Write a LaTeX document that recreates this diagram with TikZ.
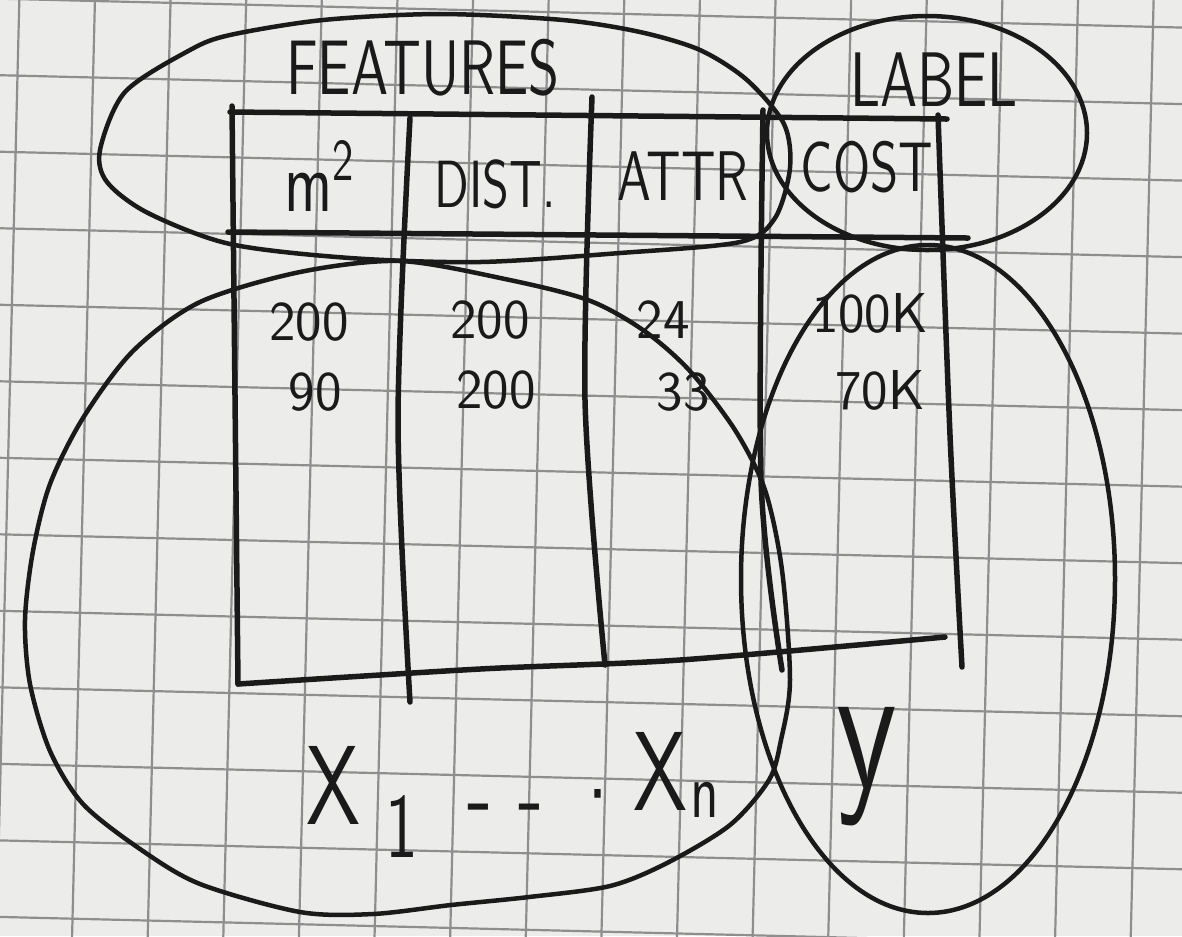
\documentclass[tikz,border=0pt]{standalone}
\usepackage{fontspec}
\usepackage{tikz}
\usetikzlibrary{calc}
\newfontfamily\handfont{lmsans10-regular.otf}[FakeStretch=0.72]
\definecolor{paper}{HTML}{ECECEB}
\definecolor{gridgray}{HTML}{8E8E8E}
\definecolor{ink}{HTML}{1A1A1A}
\tikzset{
  penline/.style={draw=ink,line width=0.55mm,line cap=round,line join=round},
  loopline/.style={draw=ink,line width=0.45mm},
  gridline/.style={draw=gridgray,line width=0.22mm},
  word/.style={font=\handfont\fontsize{#1}{#1}\selectfont,text=ink,inner sep=0pt},
  val/.style={font=\sffamily\fontsize{16}{16}\selectfont,text=ink,inner sep=0pt}
}

\begin{document}
\begin{tikzpicture}[x=0.1mm,y=-0.1mm]
\useasboundingbox (0,0) rectangle (1182,936);
\begin{scope}
\clip (0,0) rectangle (1182,936);
\fill[paper] (0,0) rectangle (1182,936);
\begin{scope}[rotate around={-1.4:(233,540)}]
\foreach \k in {-4,...,14}
  \draw[gridline] ({233+75.6*\k},-150) -- ({233+75.6*\k},1100);
\foreach \k in {-9,...,7}
  \draw[gridline] (-150,{540+76.5*\k}) -- (1350,{540+76.5*\k});
\end{scope}
\end{scope}

% table
\draw[penline] (230,112) -- (947,119);
\draw[penline] (228,232) -- (968,238);
\draw[penline] (232,106) -- (238,684);
\draw[penline] plot[smooth] coordinates {(238,684) (480,669) (680,660) (945,637)};
\draw[penline] plot[smooth] coordinates {(410,118) (398,420) (410,702)};
\draw[penline] plot[smooth] coordinates {(592,97) (585,400) (605,665)};
\draw[penline] plot[smooth] coordinates {(763,110) (761,480) (782,670)};
\draw[penline] plot[smooth] coordinates {(938,115) (950,435) (962,667)};

% groups
\draw[loopline] plot[smooth cycle] coordinates {(100,150) (125,92) (190,50) (230,35) (323,20)
  (440,14) (563,20) (640,32) (700,50) (747,80) (784,124) (790,168) (775,218) (740,242)
  (620,253) (480,262) (350,258) (230,244) (148,213) (107,182)};
\draw[loopline] (927,133) ellipse [x radius=160, y radius=117];
\draw[loopline] (928,579) ellipse [x radius=187, y radius=334];
\draw[loopline] plot[smooth cycle] coordinates {(400,261) (505,279) (588,300) (643,330)
  (689,370) (735,430) (765,490) (782,570) (790,680) (781,740) (769,780) (730,825)
  (667,863) (610,886) (529,897) (451,905) (373,914) (300,912) (200,884) (140,849)
  (83,804) (50,751) (30,684) (25,620) (33,551) (50,484) (83,418) (133,351) (200,302)
  (300,272)};

% headers
\node[word=22] (features) at (423,68) {FEATURES};
\node[word=22] (label) at (934,80) {LABEL};
\node[word=24] (sqm) at (320,176) {m\textsuperscript{2}};
\node[word=19] (dist) at (495,184) {DIST.};
\node[word=20] (attr) at (683,176) {ATTR};
\node[word=20] (cost) at (867,167) {COST};

% rows
\node[val] (a1) at (309,322) {200};
\node[val] (b1) at (490,320) {200};
\node[val] (c1) at (663,320) {24};
\node[val] (d1) at (870,313) {100K};
\node[val] (a2) at (315,392) {90};
\node[val] (b2) at (496,390) {200};
\node[val] (c2) at (683,392) {33};
\node[val] (d2) at (880,390) {70K};

% names
\node[word=32] (xone) at (334,785) {X};
\node[word=26] (subone) at (402,827) {1};
\node[word=30] (gap) at (548,810) {- - ·};
\node[word=32] (xn) at (660,771) {X};
\node[word=22] (subn) at (705,800) {n};
\node[word=52] (ylab) at (867,767) {y};
\end{tikzpicture}
\end{document}
